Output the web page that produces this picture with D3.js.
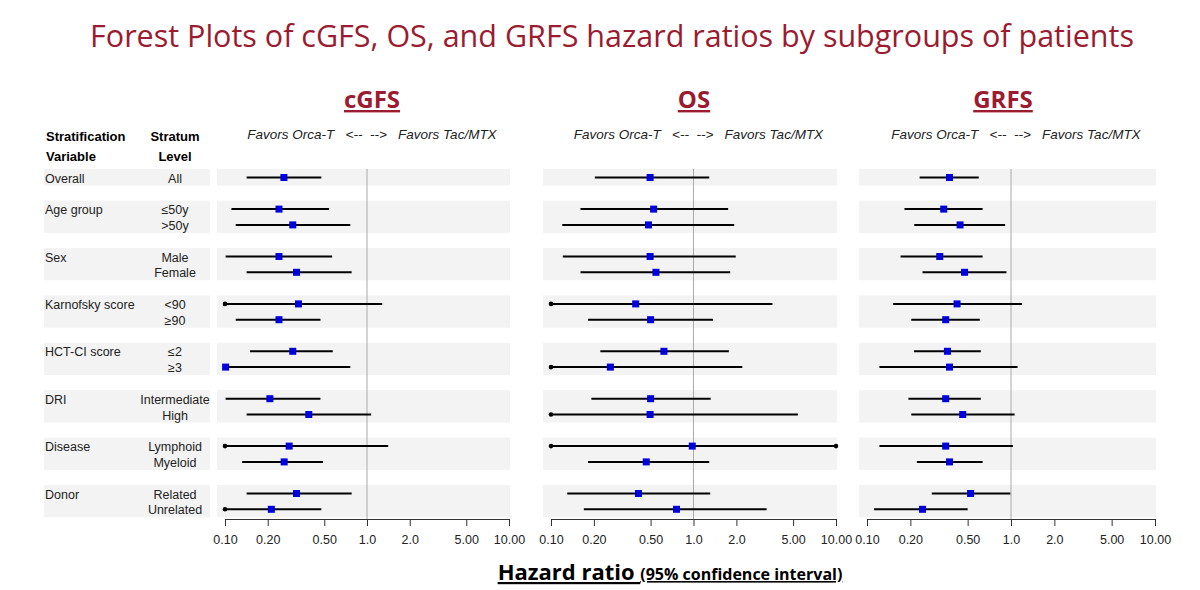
<html>
<head>
<script src="https://d3js.org/d3.v7.min.js"></script>
<style>
  body { margin: 0; background: #fff; }
  text { font-family: 'Liberation Sans', Arial, sans-serif; }
</style>
</head>
<body>
<svg width="1200" height="590"></svg>
<script>
// ---- data ----
var groups = ["Overall", "Age group", "Sex", "Karnofsky score", "HCT-CI score", "DRI", "Disease", "Donor"];
var levels = [["All"], ["\u226450y", ">50y"], ["Male", "Female"], ["<90", "\u226590"],
              ["\u22642", "\u22653"], ["Intermediate", "High"], ["Lymphoid", "Myeloid"], ["Related", "Unrelated"]];
var panels = ["cGFS", "OS", "GRFS"];
var tickVals = [0.1, 0.2, 0.5, 1, 2, 5, 10];
var tickLabels = ["0.10", "0.20", "0.50", "1.0", "2.0", "5.00", "10.00"];

// [hr, lower, upper] per row, in row order
var cgfs = [[0.26,0.142,0.477],[0.24,0.111,0.541],[0.30,0.119,0.763],[0.24,0.101,0.568],[0.319,0.142,0.78],
            [0.329,0.10,1.28],[0.24,0.119,0.47],[0.30,0.15,0.574],[0.101,0.101,0.763],[0.207,0.101,0.47],
            [0.389,0.142,1.07],[0.283,0.10,1.41],[0.261,0.132,0.49],[0.319,0.142,0.78],[0.212,0.10,0.477]];
var os = [[0.496,0.203,1.29],[0.525,0.161,1.75],[0.483,0.12,1.93],[0.496,0.121,1.98],[0.545,0.161,1.81],
          [0.393,0.10,3.58],[0.50,0.182,1.37],[0.62,0.222,1.77],[0.261,0.10,2.2],[0.50,0.192,1.32],
          [0.496,0.10,5.4],[0.98,0.10,10],[0.466,0.182,1.29],[0.411,0.13,1.31],[0.76,0.17,3.26]];
var grfs = [[0.374,0.232,0.597],[0.341,0.182,0.635],[0.443,0.213,0.91],[0.32,0.171,0.635],[0.476,0.243,0.93],
            [0.422,0.152,1.19],[0.352,0.203,0.607],[0.362,0.212,0.617],[0.374,0.122,1.11],[0.352,0.194,0.617],
            [0.462,0.203,1.06],[0.352,0.122,1.03],[0.374,0.222,0.635],[0.524,0.282,0.99],[0.243,0.112,0.50]];
var panelData = [cgfs, os, grfs];

// ---- layout ----
var svg = d3.select("svg");
var red = "#9b1b30";
var axisY = 519;
var ranges = [[225, 509], [551, 836], [867, 1155]];
var bands = [[217, 510], [543, 837], [859, 1156]];

// slot positions: overall 0, then groups of two with one empty slot between
var rows = [];
var slot = 0;
groups.forEach(function (g, gi) {
  levels[gi].forEach(function (lv, li) {
    rows.push({group: g, level: lv, first: li == 0, slot: slot, gi: gi});
    slot++;
  });
  slot++;
});
var y = d3.scaleLinear().domain([0, 1]).range([177.5, 193.3]);

svg.append("text").attr("x", 612).attr("y", 47).attr("text-anchor", "middle")
  .style("font-family", "'Open Sans', sans-serif").style("font-size", "30.5px").attr("fill", red)
  .text("Forest Plots of cGFS, OS, and GRFS hazard ratios by subgroups of patients");

// group bands
var bandRanges = groups.map(function (g, gi) {
  var r = rows.filter(function (d) { return d.gi == gi; });
  return [y(r[0].slot) - 8.5, y(r[r.length - 1].slot) + 8];
});
bandRanges.forEach(function (b) {
  svg.append("rect").attr("x", 44).attr("width", 166).attr("y", b[0]).attr("height", b[1] - b[0]).attr("fill", "#f3f3f3");
});

// left labels
svg.append("text").attr("x", 46).attr("y", 141).style("font-size", "13px").style("font-weight", "bold").text("Stratification");
svg.append("text").attr("x", 46).attr("y", 161).style("font-size", "13px").style("font-weight", "bold").text("Variable");
svg.append("text").attr("x", 175).attr("y", 141).attr("text-anchor", "middle").style("font-size", "13px").style("font-weight", "bold").text("Stratum");
svg.append("text").attr("x", 175).attr("y", 161).attr("text-anchor", "middle").style("font-size", "13px").style("font-weight", "bold").text("Level");

rows.forEach(function (d) {
  if (d.first) svg.append("text").attr("x", 45).attr("y", y(d.slot) + 5).style("font-size", "12.5px").attr("fill", "#222").text(d.group);
  svg.append("text").attr("x", 175).attr("y", y(d.slot) + 5).attr("text-anchor", "middle").style("font-size", "12.5px").attr("fill", "#222").text(d.level);
});

panels.forEach(function (p, pi) {
  var x = d3.scaleLog().domain([0.1, 10]).range(ranges[pi]);
  var g = svg.append("g");
  bandRanges.forEach(function (b) {
    g.append("rect").attr("x", bands[pi][0]).attr("width", bands[pi][1] - bands[pi][0])
      .attr("y", b[0]).attr("height", b[1] - b[0]).attr("fill", "#f3f3f3");
  });
  var cx = x(1);
  g.append("text").attr("x", pi == 0 ? 372 : pi == 1 ? 694 : 1003).attr("y", 108).attr("text-anchor", "middle")
    .style("font-family", "'Open Sans', sans-serif").style("font-size", "24px").style("font-weight", "bold")
    .style("text-decoration", "underline").attr("fill", red).text(p);
  g.append("text").attr("x", cx + 5).attr("y", 139).attr("text-anchor", "middle")
    .style("font-size", "13.5px").style("font-style", "italic").attr("fill", "#222")
    .attr("xml:space", "preserve").text("Favors Orca-T   <--  -->   Favors Tac/MTX");
  g.append("line").attr("x1", cx).attr("x2", cx).attr("y1", 169).attr("y2", axisY).attr("stroke", "#aaa").attr("stroke-width", 1);

  var ax = d3.axisBottom(x).tickValues(tickVals).tickFormat(function (d, i) { return tickLabels[i]; }).tickSize(7).tickSizeOuter(0);
  var axg = g.append("g").attr("transform", "translate(0," + axisY + ")").call(ax);
  axg.select(".domain").attr("stroke", "#333");
  axg.selectAll(".tick line").attr("stroke", "#333");
  axg.selectAll(".tick text").attr("dy", "1.2em").style("font-size", "12.5px").style("font-family", "'Liberation Sans', Arial, sans-serif").attr("fill", "#222");

  rows.forEach(function (d, ri) {
    var v = panelData[pi][ri];
    var yy = y(d.slot);
    g.append("line").attr("x1", x(v[1])).attr("x2", x(v[2])).attr("y1", yy).attr("y2", yy).attr("stroke", "#000").attr("stroke-width", 2);
    if (v[1] <= 0.1) g.append("circle").attr("cx", x(v[1])).attr("cy", yy).attr("r", 2.3).attr("fill", "#000");
    if (v[2] >= 10) g.append("circle").attr("cx", x(v[2])).attr("cy", yy).attr("r", 2.3).attr("fill", "#000");
    g.append("rect").attr("x", x(v[0]) - 3.5).attr("y", yy - 3.5).attr("width", 7).attr("height", 7).attr("fill", "#0000dd");
  });
});

var foot = svg.append("text").attr("x", 670).attr("y", 580).attr("text-anchor", "middle")
  .style("font-family", "'Open Sans', sans-serif").style("font-weight", "bold").style("text-decoration", "underline");
foot.append("tspan").style("font-size", "22px").text("Hazard ratio ");
foot.append("tspan").style("font-size", "16px").text("(95% confidence interval)");
</script>
</body>
</html>
